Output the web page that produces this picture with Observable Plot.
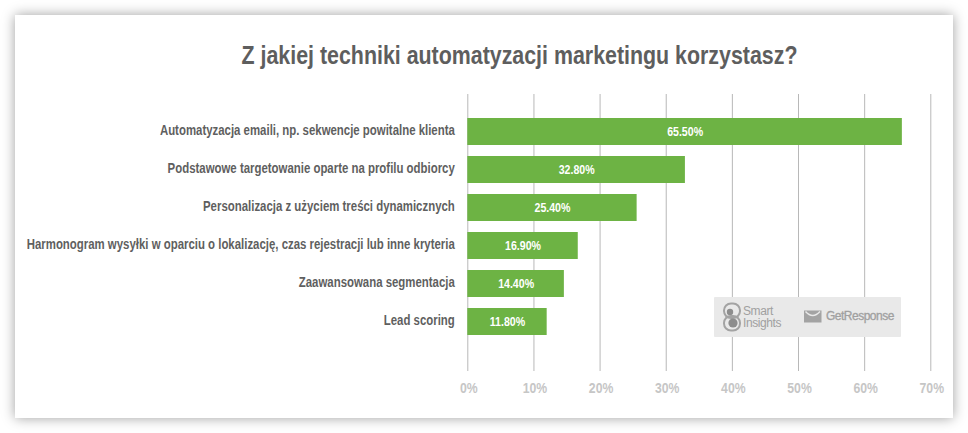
<!DOCTYPE html>
<html><head><meta charset="utf-8">
<script src="https://cdn.jsdelivr.net/npm/d3@7"></script>
<script src="https://cdn.jsdelivr.net/npm/@observablehq/plot@0.6"></script>
<style>
html,body{margin:0;padding:0;background:#fff;width:968px;height:433px;overflow:hidden}
#card{position:absolute;left:15px;top:15px;width:938px;height:403px;background:#fff;box-shadow:0 0 12px rgba(0,0,0,.38)}
#title{position:absolute;left:0;top:40px;width:968px;padding-left:71px;box-sizing:border-box;text-align:center;font:bold 25px "Liberation Sans",sans-serif;color:#5e5e5e;line-height:30px;white-space:nowrap;transform:scaleX(.855);transform-origin:519.5px 0}
#chart{position:absolute;left:0;top:0}
#chart svg{display:block;background:transparent}
#logo{position:absolute;left:714px;top:297px;width:187px;height:40px;background:#e9e9e9;border-radius:1px;color:#a0a0a0;font-family:"Liberation Sans",sans-serif}
#logo .a{position:absolute;left:29px;top:8px;font-size:12px;line-height:12px;letter-spacing:-.4px}
#logo .b{position:absolute;left:112px;top:12px;font-size:12px;line-height:14px;letter-spacing:-.5px;-webkit-text-stroke:.3px #a0a0a0}
#logo svg{position:absolute;left:0;top:0}
</style></head><body>
<div id="card"></div>
<div id="chart"></div>
<div id="title">Z jakiej techniki automatyzacji marketingu korzystasz?</div>
<div id="logo">
  <svg width="187" height="40" viewBox="0 0 187 40">
    <rect x="10" y="6.5" width="16" height="14.5" rx="7" fill="none" stroke="#a3a3a3" stroke-width="2"/>
    <rect x="10" y="19" width="16" height="14.5" rx="7" fill="none" stroke="#a3a3a3" stroke-width="2"/>
    <circle cx="16" cy="15" r="3.2" fill="#8d8d8d"/>
    <circle cx="19" cy="26" r="4.6" fill="#8d8d8d"/>
    <path d="M90 13.5h17.500v12h-17.500z" fill="#a3a3a3"/>
    <path d="M91.500 14.500q7.250 8 14.500 0" fill="none" stroke="#e9e9e9" stroke-width="1.500"/>
  </svg>
  <div class="a">Smart<br>Insights</div>
  <div class="b">GetResponse</div>
</div>
<script>
const categories = [
  "Automatyzacja emaili, np. sekwencje powitalne klienta",
  "Podstawowe targetowanie oparte na profilu odbiorcy",
  "Personalizacja z użyciem treści dynamicznych",
  "Harmonogram wysyłki w oparciu o lokalizację, czas rejestracji lub inne kryteria",
  "Zaawansowana segmentacja",
  "Lead scoring"
];
// Printed labels, and bar lengths (they differ slightly).
const printedLabels = ["65.50%", "32.80%", "25.40%", "16.90%", "14.40%", "11.80%"];
const barLengths = [65.7, 32.9, 25.6, 16.7, 14.6, 12.0];
const xTicks = [0, 10, 20, 30, 40, 50, 60, 70];
const rows = categories.map((category, i) => ({category, length: barLengths[i], label: printedLabels[i]}));
const sans = '"Liberation Sans",sans-serif';

const chart = Plot.plot({
  width: 968, height: 433,
  marginLeft: 467.3, marginRight: 37.7, marginTop: 94, marginBottom: 62,
  style: {background: "transparent", fontFamily: sans},
  x: {domain: [0, 70], ticks: xTicks, label: null},
  y: {domain: categories, range: [105.5, 347.5], padding: 0.3, label: null},
  marks: [
    Plot.ruleX(xTicks, {stroke: "#b8b8b8", strokeWidth: 1}),
    Plot.barX(rows, {x: "length", y: "category", fill: "#6db344"}),
    Plot.text(rows, {
      x: d => d.length / 2, y: "category", text: "label",
      fill: "#fff", fontWeight: "bold", fontSize: 13
    }),
    Plot.axisY({
      tickSize: 0, tickPadding: 13, label: null, lineWidth: 100,
      fontSize: 14, fontWeight: "bold", fill: "#5f5f5f",
      tickFormat: d => d, dy: -1
    }),
    Plot.axisX({
      ticks: xTicks, tickSize: 0, tickPadding: 11, label: null,
      fontSize: 15, fontWeight: "bold", fill: "#c6c6c6",
      tickFormat: d => d + "%", dx: 1
    })
  ]
});
document.getElementById("chart").append(chart);
// The reference uses a condensed face: narrow the real text to its width.
chart.querySelectorAll("text").forEach(t => {
  t.setAttribute("lengthAdjust", "spacingAndGlyphs");
  t.setAttribute("textLength", (t.getComputedTextLength() * 0.815).toFixed(1));
});
</script>
</body></html>
